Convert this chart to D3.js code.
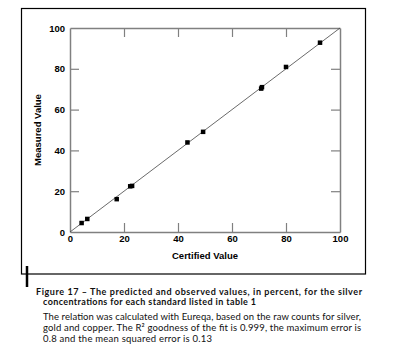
<!DOCTYPE html>
<html>
<head>
<meta charset="utf-8">
<script src="https://cdn.jsdelivr.net/npm/d3@7"></script>
<style>
  body { margin: 0; background: #fff; }
  svg { display: block; }
</style>
</head>
<body>
<div id="chart"></div>
<script>
const certified = [4.3, 6.4, 17.3, 22.3, 23.0, 43.5, 49.3, 70.8, 71.1, 80.0, 92.6];
const measured  = [4.4, 6.4, 16.1, 22.4, 22.6, 43.9, 49.1, 70.3, 71.0, 80.9, 92.8];
const tickValues = [0, 20, 40, 60, 80, 100];
const xTitle = "Certified Value";
const yTitle = "Measured Value";
const captionBold = [
    "Figure 17 \u2013 The predicted and observed values, in percent, for the silver",
    "concentrations for each standard listed in table 1"
];
const captionText = [
    "The relation was calculated with Eureqa, based on the raw counts for silver,",
    "gold and copper. The R\u00b2 goodness of the fit is 0.999, the maximum error is",
    "0.8 and the mean squared error is 0.13"
];

const W = 405, H = 361;
const plot = { left: 70, right: 340, top: 28, bottom: 232 };

const svg = d3.select("#chart")
    .append("svg")
    .attr("width", W)
    .attr("height", H);

// outer frame of the figure
svg.append("rect")
    .attr("x", 21.5).attr("y", 8.5)
    .attr("width", 344).attr("height", 265.5)
    .attr("fill", "none")
    .attr("stroke", "#000")
    .attr("stroke-width", 1.2);

// the black change bar at the left
svg.append("line")
    .attr("x1", 27).attr("x2", 27)
    .attr("y1", 266).attr("y2", 287)
    .attr("stroke", "#000")
    .attr("stroke-width", 2.5);

const x = d3.scaleLinear().domain([0, 100]).range([plot.left, plot.right]);
const y = d3.scaleLinear().domain([0, 100]).range([plot.bottom, plot.top]);

const axisColor = "#808080";
const fontAxis = "'Liberation Sans', Arial, sans-serif";

// axes with inward ticks on all four sides
function styleAxis(g, showLabels) {
    g.select(".domain").attr("stroke", axisColor).attr("stroke-width", 1.5);
    g.selectAll(".tick line").attr("stroke", axisColor).attr("stroke-width", 1.2);
    g.selectAll(".tick text")
        .attr("fill", "#000")
        .style("font-family", fontAxis)
        .style("font-weight", "bold")
        .style("font-size", "9.5px");
    if (!showLabels) g.selectAll(".tick text").remove();
}

svg.append("g")
    .attr("transform", `translate(0,${plot.bottom})`)
    .call(d3.axisBottom(x).tickValues(tickValues).tickSize(-9).tickPadding(3).tickSizeOuter(0))
    .call(g => styleAxis(g, true))
    .call(g => g.selectAll(".tick line").filter(d => d === 0 || d === 100).remove());

svg.append("g")
    .attr("transform", `translate(0,${plot.top})`)
    .call(d3.axisTop(x).tickValues(tickValues).tickSize(-9).tickSizeOuter(0))
    .call(g => styleAxis(g, false))
    .call(g => g.selectAll(".tick line").filter(d => d === 0 || d === 100).remove());

svg.append("g")
    .attr("transform", `translate(${plot.left},0)`)
    .call(d3.axisLeft(y).tickValues(tickValues).tickSize(-9).tickPadding(5).tickSizeOuter(0))
    .call(g => styleAxis(g, true))
    .call(g => g.selectAll(".tick line").filter(d => d === 0 || d === 100).remove());

svg.append("g")
    .attr("transform", `translate(${plot.right},0)`)
    .call(d3.axisRight(y).tickValues(tickValues).tickSize(-9).tickSizeOuter(0))
    .call(g => styleAxis(g, false))
    .call(g => g.selectAll(".tick line").filter(d => d === 0 || d === 100).remove());

// 1:1 line
svg.append("line")
    .attr("x1", x(0)).attr("y1", y(0))
    .attr("x2", x(100)).attr("y2", y(100))
    .attr("stroke", "#444")
    .attr("stroke-width", 0.8);

// data squares
const s = 4.5;
svg.selectAll("rect.pt")
    .data(certified)
    .join("rect")
    .attr("class", "pt")
    .attr("x", d => x(d) - s / 2)
    .attr("y", (d, i) => y(measured[i]) - s / 2)
    .attr("width", s)
    .attr("height", s)
    .attr("fill", "#000");

// axis titles
svg.append("text")
    .attr("x", (plot.left + plot.right) / 2)
    .attr("y", 259)
    .attr("text-anchor", "middle")
    .style("font-family", fontAxis)
    .style("font-weight", "bold")
    .style("font-size", "9.5px")
    .text(xTitle);

svg.append("text")
    .attr("transform", `translate(41,${(plot.top + plot.bottom) / 2}) rotate(-90)`)
    .attr("text-anchor", "middle")
    .style("font-family", fontAxis)
    .style("font-weight", "bold")
    .style("font-size", "9.5px")
    .text(yTitle);

// caption
const fontCap = "Lato, 'Open Sans', sans-serif";
const bold = [
    { t: captionBold[0], x: 36, y: 295, w: 326 },
    { t: captionBold[1], x: 43, y: 305, w: 213 }
];
svg.selectAll("text.capb")
    .data(bold)
    .join("text")
    .attr("class", "capb")
    .attr("x", d => d.x).attr("y", d => d.y)
    .attr("textLength", d => d.w)
    .attr("lengthAdjust", "spacing")
    .style("font-family", fontCap)
    .style("font-weight", "bold")
    .style("font-size", "9px")
    .style("fill", "#111")
    .text(d => d.t);

const plain = [
    { t: captionText[0], y: 319.5, w: 318 },
    { t: captionText[1], y: 330.5, w: 318 },
    { t: captionText[2], y: 341.5, w: 169 }
];
svg.selectAll("text.cap")
    .data(plain)
    .join("text")
    .attr("class", "cap")
    .attr("x", 43).attr("y", d => d.y)
    .attr("textLength", d => d.w)
    .attr("lengthAdjust", "spacing")
    .style("font-family", fontCap)
    .style("font-size", "9.5px")
    .style("fill", "#111")
    .text(d => d.t);
</script>
</body>
</html>
